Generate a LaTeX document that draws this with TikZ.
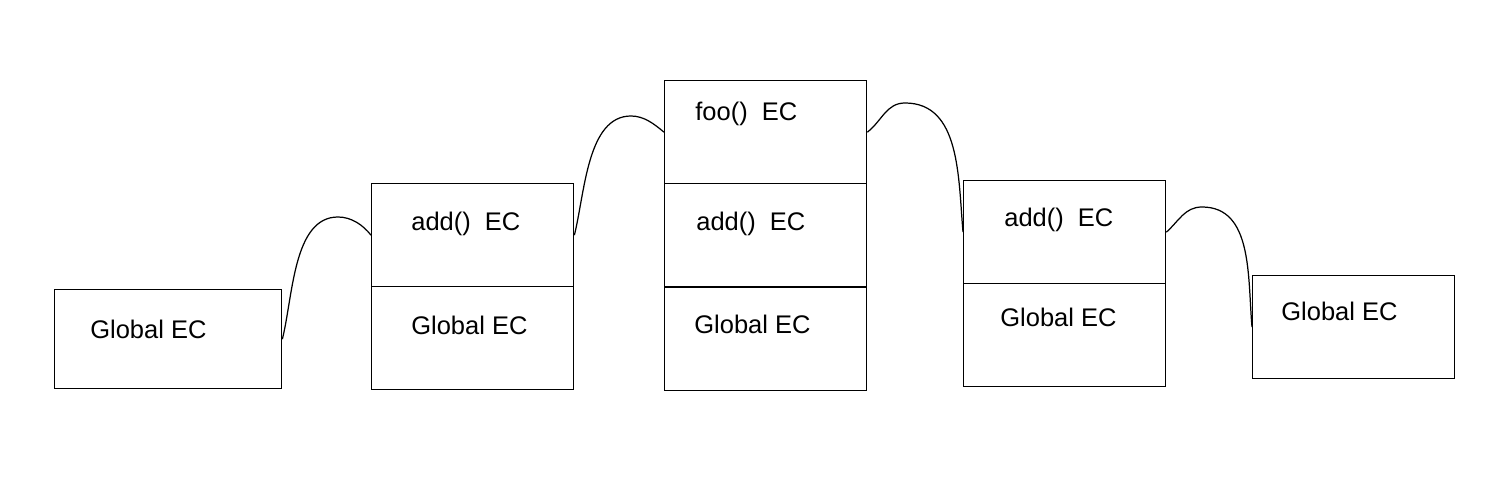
\documentclass[tikz,border=0pt]{standalone}
\usepackage{fontspec}
\setmainfont{Liberation Sans}
\tikzset{
  ecbox/.style={draw, line width=0.8pt, rectangle, anchor=north west, inner sep=0pt,
    minimum width=4.04cm, minimum height=2.06cm},
  ectext/.style={anchor=base west, inner sep=0pt, font=\fontsize{14.5}{17}\selectfont},
  hop/.style={line width=0.7pt}
}
\begin{document}
\begin{tikzpicture}[x=0.02cm,y=-0.02cm]
  \useasboundingbox (0,0) rectangle (1494,492);

  % stage 1
  \node[ecbox, minimum width=4.54cm, minimum height=1.98cm] (g1) at (54,289) {};
  \node[ectext] (t1) at (90,339) {Global EC};

  % stage 2
  \node[ecbox] (a2) at (371,183) {};
  \node[ecbox] (g2) at (371,286) {};
  \node[ectext] (ta2) at (411,231) {add()\ \ EC};
  \node[ectext] (tg2) at (411,335) {Global EC};

  % stage 3
  \node[ecbox] (f3) at (664,80) {};
  \node[ecbox] (a3) at (664,183) {};
  \node[ecbox] (g3) at (664,287) {};
  \node[ectext] (tf3) at (695,121) {foo()\ \ EC};
  \node[ectext] (ta3) at (696,231) {add()\ \ EC};
  \node[ectext] (tg3) at (694,334) {Global EC};

  % stage 4
  \node[ecbox] (a4) at (963,180) {};
  \node[ecbox] (g4) at (963,283) {};
  \node[ectext] (ta4) at (1004,227) {add()\ \ EC};
  \node[ectext] (tg4) at (1000,327) {Global EC};

  % stage 5
  \node[ecbox] (g5) at (1252,275) {};
  \node[ectext] (t5) at (1281,321) {Global EC};

  % humps
  \coordinate (p1) at (338,217);
  \coordinate (p2) at (631,116);
  \coordinate (p3) at (905,103);
  \coordinate (p4) at (1202,207);
  \draw[hop] (g1.east) to[out=76,in=180,looseness=0.85] (p1) to[out=0,in=128,looseness=0.9] (a2.west);
  \draw[hop] (a2.east) to[out=76,in=180,looseness=0.85] (p2) to[out=0,in=140,looseness=0.9] (f3.west);
  \draw[hop] (f3.east) to[out=38,in=180] (p3) to[out=0,in=95] (a4.west);
  \draw[hop] (a4.east) to[out=42,in=180] (p4) to[out=0,in=95] (g5.west);
\end{tikzpicture}
\end{document}
